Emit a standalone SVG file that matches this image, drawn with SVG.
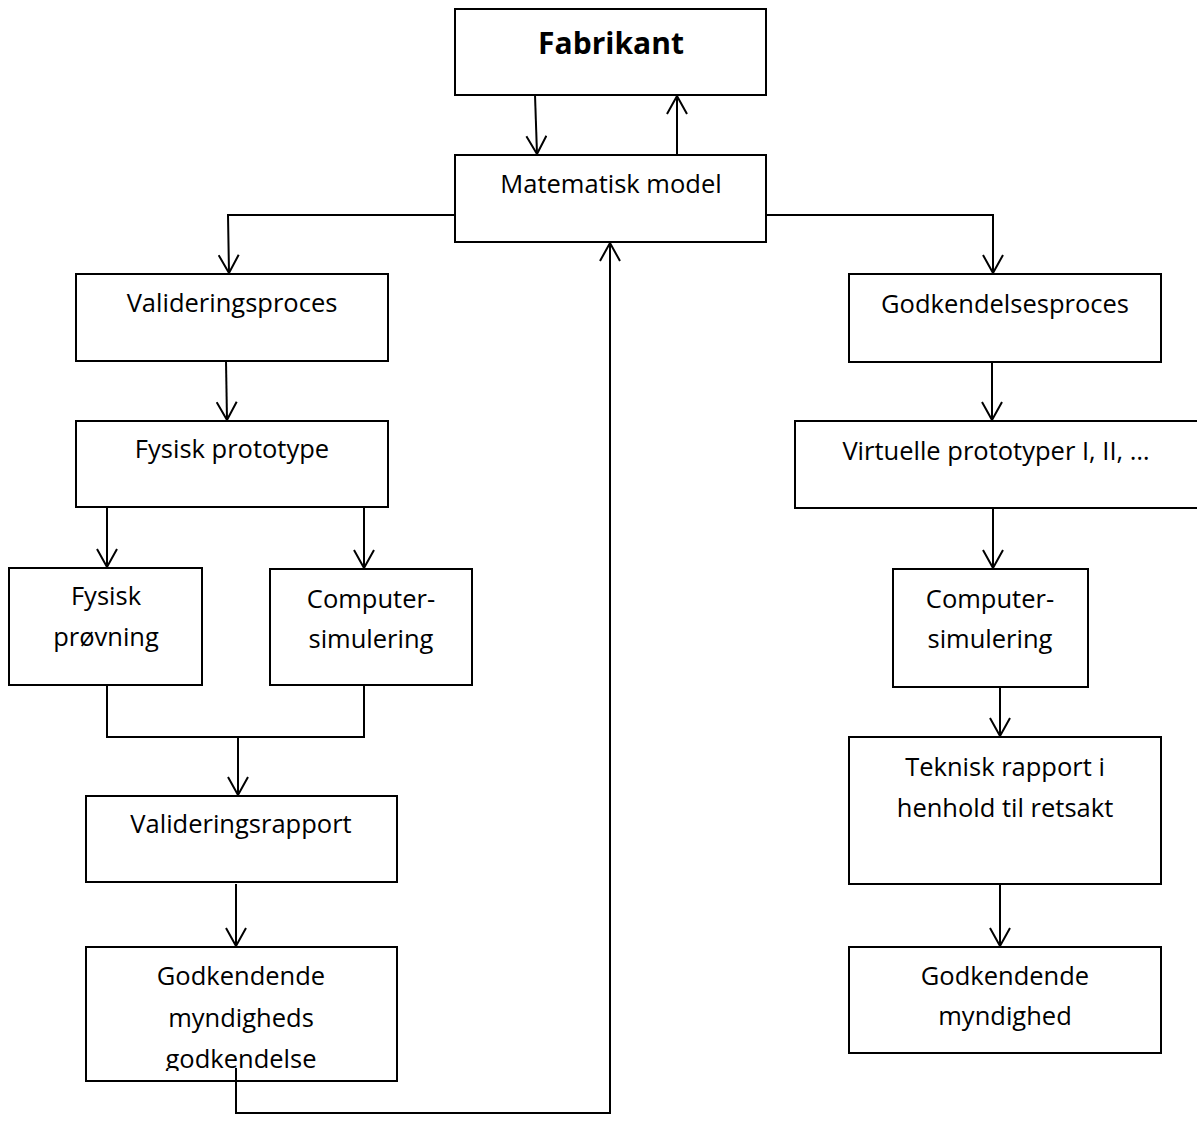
<svg xmlns="http://www.w3.org/2000/svg" width="1197" height="1146" viewBox="0 0 1197 1146">
<style>
  .box { fill: #fff; stroke: #000; stroke-width: 2; }
  .t { font-family: "Open Sans", "Liberation Sans", sans-serif; font-size: 25.5px; fill: #000; text-anchor: middle; }
  .tb { font-family: "Open Sans", "Liberation Sans", sans-serif; font-size: 30px; font-weight: bold; fill: #000; text-anchor: middle; }
  .c { fill: none; stroke: #000; stroke-width: 2; }
  .a { fill: none; stroke: #000; stroke-width: 2; marker-end: url(#arr); }
</style>
<defs>
  <marker id="arr" viewBox="0 0 20 22" refX="19" refY="11" markerWidth="20" markerHeight="22" markerUnits="userSpaceOnUse" orient="auto">
    <path d="M1,1 L19,11 L1,21" fill="none" stroke="#000" stroke-width="2"/>
  </marker>
  <clipPath id="clipG"><rect x="86" y="1040" width="311" height="31"/></clipPath>
</defs>
<rect width="1197" height="1146" fill="#fff"/>

<g id="n-fabrikant"><rect class="box" x="455" y="9" width="311" height="86"/><text class="tb" x="611" y="54">Fabrikant</text></g>
<g id="n-matematisk"><rect class="box" x="455" y="155" width="311" height="87"/><text class="t" x="611" y="193">Matematisk model</text></g>
<g id="n-valproces"><rect class="box" x="76" y="274" width="312" height="87"/><text class="t" x="232" y="312">Valideringsproces</text></g>
<g id="n-fysproto"><rect class="box" x="76" y="421" width="312" height="86"/><text class="t" x="232" y="458">Fysisk prototype</text></g>
<g id="n-fysprov"><rect class="box" x="9" y="568" width="193" height="117"/><text class="t" x="106" y="605">Fysisk</text><text class="t" x="106" y="646">prøvning</text></g>
<g id="n-compL"><rect class="box" x="270" y="569" width="202" height="116"/><text class="t" x="371" y="608">Computer-</text><text class="t" x="371" y="648">simulering</text></g>
<g id="n-valrapport"><rect class="box" x="86" y="796" width="311" height="86"/><text class="t" x="241" y="833">Valideringsrapport</text></g>
<g id="n-godkL"><rect class="box" x="86" y="947" width="311" height="134"/><text class="t" x="241" y="985">Godkendende</text><text class="t" x="241" y="1027">myndigheds</text><text class="t" x="241" y="1068" clip-path="url(#clipG)">godkendelse</text></g>

<g id="n-godkproces"><rect class="box" x="849" y="274" width="312" height="88"/><text class="t" x="1005" y="313">Godkendelsesproces</text></g>
<g id="n-virtuelle"><rect class="box" x="795" y="421" width="410" height="87"/><text class="t" x="996" y="460">Virtuelle prototyper I, II, …</text></g>
<g id="n-compR"><rect class="box" x="893" y="569" width="195" height="118"/><text class="t" x="990" y="608">Computer-</text><text class="t" x="990" y="648">simulering</text></g>
<g id="n-teknisk"><rect class="box" x="849" y="737" width="312" height="147"/><text class="t" x="1005" y="776">Teknisk rapport i</text><text class="t" x="1005" y="817">henhold til retsakt</text></g>
<g id="n-godkR"><rect class="box" x="849" y="947" width="312" height="106"/><text class="t" x="1005" y="985">Godkendende</text><text class="t" x="1005" y="1025">myndighed</text></g>

<g id="connectors">
  <path class="a" d="M535,95 L537,154"/>
  <path class="a" d="M677,155 L677,96"/>
  <path class="a" d="M455,215 L228,215 L229,273"/>
  <path class="a" d="M766,215 L993,215 L993,273"/>
  <path class="a" d="M226,361 L227,420"/>
  <path class="a" d="M107,507 L107,567"/>
  <path class="a" d="M364,507 L364,568"/>
  <path class="c" d="M107,685 L107,737 L364,737 L364,685"/>
  <path class="a" d="M238,737 L238,795"/>
  <path class="a" d="M236,884 L236,946"/>
  <path class="a" d="M236,1068 L236,1113 L610,1113 L610,243"/>
  <path class="a" d="M992,362 L992,420"/>
  <path class="a" d="M993,508 L993,568"/>
  <path class="a" d="M1000,687 L1000,736"/>
  <path class="a" d="M1000,884 L1000,946"/>
</g>
</svg>
